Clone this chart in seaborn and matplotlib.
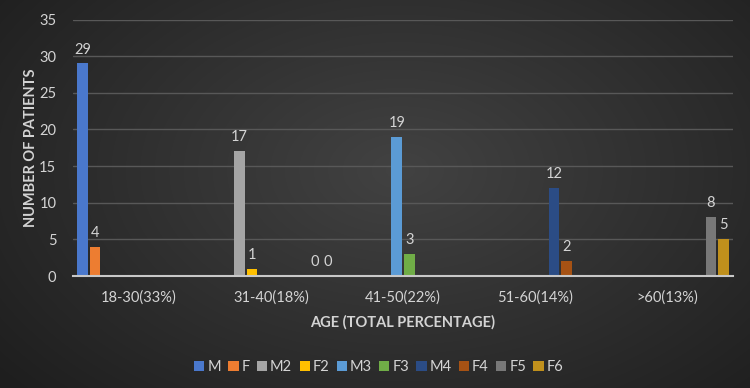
import numpy as np
import pandas as pd
import matplotlib
matplotlib.use("Agg")
import matplotlib.pyplot as plt
import seaborn as sns
from matplotlib.patches import Patch

categories = ["18-30(33%)", "31-40(18%)", "41-50(22%)", "51-60(14%)", ">60(13%)"]
series = ["M", "F", "M2", "F2", "M3", "F3", "M4", "F4", "F5", "F6"]
M  = [29, None, None, None, None]
F  = [4, None, None, None, None]
M2 = [None, 17, None, None, None]
F2 = [None, 1, None, None, None]
M3 = [None, None, 19, None, None]
F3 = [None, None, 3, None, None]
M4 = [None, None, None, 12, None]
F4 = [None, None, None, 2, None]
F5 = [None, 0, None, None, 8]
F6 = [None, 0, None, None, 5]
values = [M, F, M2, F2, M3, F3, M4, F4, F5, F6]
colors = ["#4a78cc", "#ed7d31", "#a5a5a5", "#ffc000", "#5b9bd5",
          "#70ad47", "#2b4c85", "#a65214", "#787878", "#c0901c"]
yticks = [0, 5, 10, 15, 20, 25, 30, 35]

rows = []
for s, vals in zip(series, values):
    for c, v in zip(categories, vals):
        if v is not None:
            rows.append({"age": c, "series": s, "count": v})
df = pd.DataFrame(rows)

sns.set_theme(style="dark")
plt.rcParams["font.family"] = ["Lato", "DejaVu Sans"]
txt = "#d4d4d4"

fig = plt.figure(figsize=(7.5, 3.88), dpi=100)
# background radial gradient
bg = fig.add_axes([0, 0, 1, 1], zorder=-10)
yy, xx = np.mgrid[0:388, 0:750]
r = np.sqrt(((xx - 400) / 520.0) ** 2 + ((yy - 170) / 330.0) ** 2)
r = np.clip(r, 0, 1)
c0 = np.array([0x42, 0x42, 0x42]) / 255.0
c1 = np.array([0x1e, 0x1e, 0x1e]) / 255.0
img = c0[None, None, :] * (1 - r[..., None]) + c1[None, None, :] * r[..., None]
bg.imshow(img, aspect="auto", extent=[0, 1, 0, 1], origin="upper")
bg.axis("off")

ax = fig.add_axes([73 / 750, 112 / 388, 660 / 750, 256.5 / 388])
ax.set_facecolor("none")
sns.barplot(data=df, x="age", y="count", hue="series", order=categories,
            hue_order=series, palette=colors, width=0.947, gap=0.16,
            saturation=1, ax=ax, legend=False, linewidth=0, edgecolor="none")

for cont in ax.containers:
    ax.bar_label(cont, fmt="%g", padding=5, color=txt, fontsize=10.5)

ax.set_ylim(0, 35)
ax.set_xlim(-0.5, 4.5)
ax.set_yticks(yticks)
ax.grid(axis="y", color="#585858", linewidth=1)
ax.grid(axis="x", visible=False)
ax.set_axisbelow(True)
for sp in ["top", "right", "left"]:
    ax.spines[sp].set_visible(False)
ax.spines["bottom"].set_color("#c8c8c8")
ax.spines["bottom"].set_linewidth(1.5)
ax.tick_params(axis="y", colors=txt, labelsize=10.5, length=0, pad=12)
ax.tick_params(axis="x", colors=txt, labelsize=10.5, length=0, pad=10)
ax.set_xlabel("AGE (TOTAL PERCENTAGE)", color=txt, fontsize=10.5,
              fontweight="bold", labelpad=8)
ax.set_ylabel("NUMBER OF PATIENTS", color=txt, fontsize=10.5,
              fontweight="bold", labelpad=1)

handles = [Patch(facecolor=c, edgecolor="none", label=s) for s, c in zip(series, colors)]
leg = fig.legend(handles=handles, loc="center", bbox_to_anchor=(0.505, 21 / 388),
                 ncol=10, frameon=False, fontsize=10.5, handlelength=0.7,
                 handleheight=0.7, handletextpad=0.2, columnspacing=0.5)
for t in leg.get_texts():
    t.set_color(txt)

fig.savefig("out.png", dpi=100)
